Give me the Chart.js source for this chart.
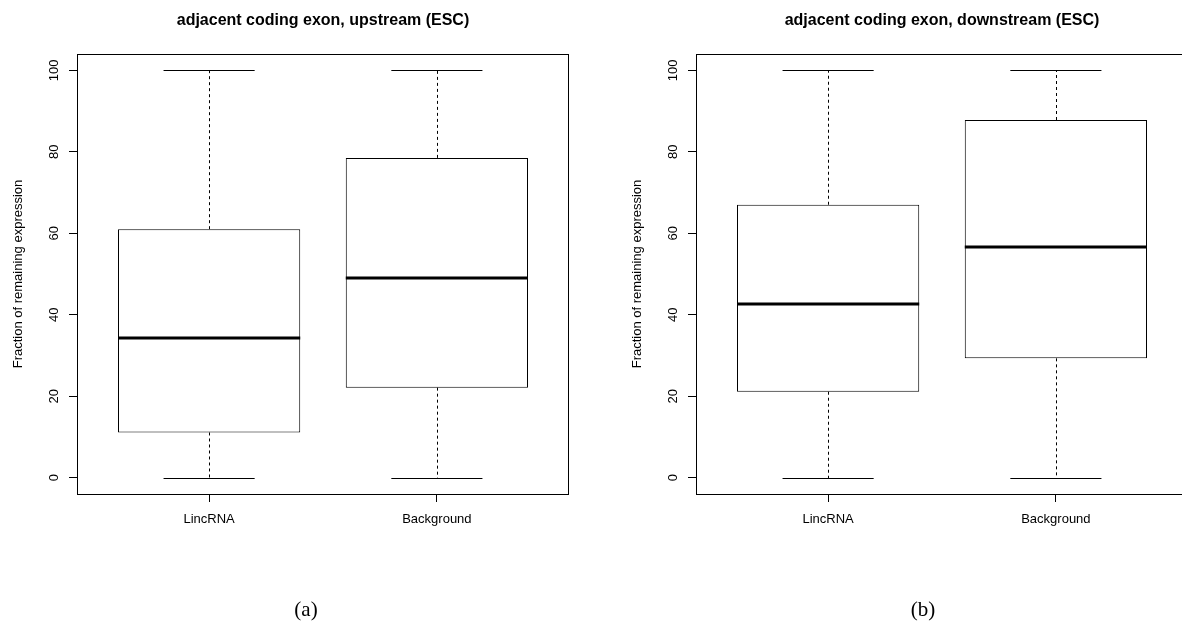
<!DOCTYPE html>
<html>
<head>
<meta charset="utf-8">
<script src="https://cdn.jsdelivr.net/npm/chart.js@4.4.1/dist/chart.umd.min.js"></script>
<style>
  html, body { margin: 0; padding: 0; background: #fff; overflow: hidden; }
  body { width: 1182px; height: 627px; position: relative; }
  .panel { position: absolute; top: 0; width: 619px; height: 627px; }
  .caption { position: absolute; top: 599px; width: 100px; text-align: center;
    font-family: "Liberation Serif", "DejaVu Serif", serif; font-size: 21px; line-height: 1; color: #000; }
</style>
</head>
<body>
<div class="panel" style="left:0"><canvas id="upChart" width="619" height="627"></canvas></div>
<div class="panel" style="left:619px"><canvas id="downChart" width="619" height="627"></canvas></div>
<div class="caption" style="left:256px">(a)</div>
<div class="caption" style="left:873px">(b)</div>

<script>
// boxplot summaries (percent of remaining expression)
const categories = ['LincRNA', 'Background'];
const yTicks = [0, 20, 40, 60, 80, 100];

// (a) upstream
const upMin = [0, 0];
const upQ1 = [11.1, 22.1];
const upMedian = [34.4, 49.1];
const upQ3 = [61.0, 78.5];
const upMax = [100, 100];

// (b) downstream
const downMin = [0, 0];
const downQ1 = [21.1, 29.3];
const downMedian = [42.6, 56.6];
const downQ3 = [67.0, 87.8];
const downMax = [100, 100];

const yLabel = 'Fraction of remaining expression';
const font = '"Liberation Sans", Arial, Helvetica, sans-serif';

function makePanel(canvasId, title, mins, q1s, medians, q3s, maxs) {
  // whiskers, staples, medians and the frame, all placed through the chart scales
  const boxParts = {
    id: 'boxParts',
    afterDatasetsDraw(chart) {
      const ctx = chart.ctx;
      const ys = chart.scales.y;
      const meta = chart.getDatasetMeta(0);
      ctx.save();
      ctx.strokeStyle = '#000';
      meta.data.forEach((bar, i) => {
        const cx = Math.round(bar.x) + 0.5;
        const half = bar.width / 2;
        const yMin = Math.round(ys.getPixelForValue(mins[i])) + 0.5;
        const yMax = Math.round(ys.getPixelForValue(maxs[i])) + 0.5;
        const yQ1 = ys.getPixelForValue(q1s[i]);
        const yQ3 = ys.getPixelForValue(q3s[i]);
        const yMed = Math.round(ys.getPixelForValue(medians[i]));

        // dashed whiskers
        ctx.lineWidth = 1;
        ctx.setLineDash([3, 3]);
        ctx.beginPath();
        ctx.moveTo(cx, yQ3); ctx.lineTo(cx, yMax);
        ctx.moveTo(cx, yQ1); ctx.lineTo(cx, yMin);
        ctx.stroke();

        // staples, half the box width
        ctx.setLineDash([]);
        ctx.beginPath();
        ctx.moveTo(bar.x - half / 2, yMax); ctx.lineTo(bar.x + half / 2, yMax);
        ctx.moveTo(bar.x - half / 2, yMin); ctx.lineTo(bar.x + half / 2, yMin);
        ctx.stroke();

        // median
        ctx.lineWidth = 3;
        ctx.beginPath();
        ctx.moveTo(bar.x - half, yMed); ctx.lineTo(bar.x + half, yMed);
        ctx.stroke();
      });

      // plot frame
      const a = chart.chartArea;
      ctx.lineWidth = 1;
      ctx.strokeRect(a.left + 0.5, a.top + 0.5, a.right - a.left - 1, a.bottom - a.top);
      ctx.restore();
    }
  };

  return new Chart(document.getElementById(canvasId), {
    type: 'bar',
    data: {
      datasets: [{
        data: categories.map((c, i) => ({ x: i + 1, y: [q1s[i], q3s[i]] })),
        backgroundColor: '#fff',
        borderColor: '#000',
        borderWidth: 1,
        borderSkipped: false,
        barPercentage: 0.8,
        categoryPercentage: 1
      }]
    },
    options: {
      responsive: false,
      animation: false,
      layout: { padding: { top: 0, right: 50, bottom: 93, left: 0 } },
      plugins: {
        legend: { display: false },
        tooltip: { enabled: false },
        title: {
          display: true,
          text: title,
          fullSize: false,
          color: '#000',
          font: { family: font, size: 16, weight: 'bold' },
          padding: { top: 11, bottom: 23.8 }
        }
      },
      scales: {
        x: {
          type: 'linear',
          min: 0.42,
          max: 2.58,
          offset: false,
          afterBuildTicks: s => { s.ticks = categories.map((c, i) => ({ value: i + 1 })); },
          afterFit: s => { s.height = 40; },
          border: { display: false },
          grid: { display: true, offset: false, drawOnChartArea: false, drawTicks: true, tickLength: 8, color: '#000' },
          ticks: {
            color: '#000',
            font: { family: font, size: 13 },
            padding: 10,
            maxRotation: 0,
            autoSkip: false,
            callback: v => categories[v - 1]
          }
        },
        y: {
          min: -4,
          max: 104,
          afterBuildTicks: s => { s.ticks = yTicks.map(v => ({ value: v })); },
          afterFit: s => { s.width = 77; },
          border: { display: false },
          grid: { display: true, drawOnChartArea: false, drawTicks: true, tickLength: 8, color: '#000' },
          ticks: {
            color: '#000',
            font: { family: font, size: 13 },
            padding: 4,
            minRotation: 90,
            maxRotation: 90,
            crossAlign: 'center'
          },
          title: {
            display: true,
            text: yLabel,
            color: '#000',
            font: { family: font, size: 13 },
            padding: { top: 11, bottom: 0 }
          }
        }
      }
    },
    plugins: [boxParts]
  });
}

makePanel('upChart', 'adjacent coding exon, upstream (ESC)', upMin, upQ1, upMedian, upQ3, upMax);
makePanel('downChart', 'adjacent coding exon, downstream (ESC)', downMin, downQ1, downMedian, downQ3, downMax);
</script>
</body>
</html>
